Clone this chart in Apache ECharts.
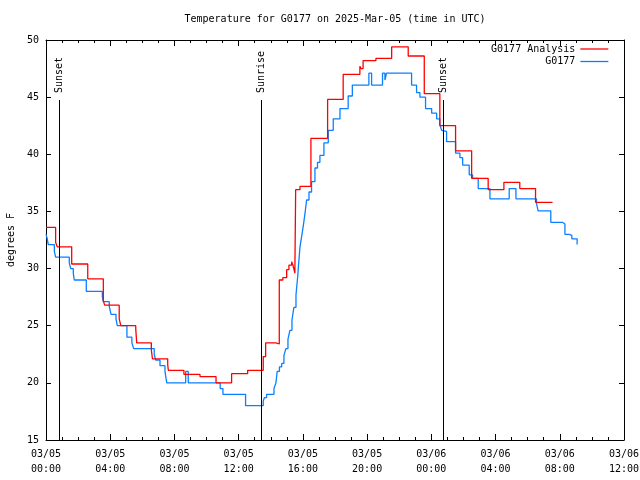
<!DOCTYPE html>
<html>
<head>
<meta charset="utf-8">
<script src="https://cdn.jsdelivr.net/npm/echarts@6/dist/echarts.min.js"></script>
<style>html,body{margin:0;padding:0;background:#fff;}#c{width:640px;height:480px;}</style>
</head>
<body>
<div id="c"></div>
<script>
// hours since 2025-03-05 00:00 UTC
var xTickLabels = ['03/05\n00:00','03/05\n04:00','03/05\n08:00','03/05\n12:00','03/05\n16:00','03/05\n20:00','03/06\n00:00','03/06\n04:00','03/06\n08:00','03/06\n12:00'];

var analysisHours = [0, 0.60, 0.70, 1.60, 2.60, 3.57, 3.65, 4.56, 4.66, 5.59, 5.65, 6.56, 6.63, 7.58, 7.62, 8.59, 9.59, 10.59, 11.56, 12.56, 13.53, 13.68, 14.32, 14.53, 14.75, 14.99, 15.13, 15.30, 15.38, 15.50, 15.55, 15.82, 16.50, 17.54, 18.51, 19.55, 19.62, 19.75, 20.55, 21.53, 22.56, 23.56, 24.53, 25.51, 26.51, 27.54, 28.52, 29.51, 30.49, 31.55];
var analysisTemps = [33.6, 32.3, 31.9, 30.4, 29.1, 27.2, 26.8, 25.6, 25.0, 24.7, 23.5, 22.9, 22.1, 21.6, 21.1, 20.75, 20.55, 20.0, 20.8, 21.1, 22.3, 23.5, 23.4, 29.0, 29.2, 29.9, 30.3, 30.6, 30.3, 29.6, 36.9, 37.2, 41.4, 44.8, 47.0, 47.7, 47.5, 48.2, 48.4, 49.4, 48.6, 45.3, 42.5, 40.3, 37.9, 36.9, 37.55, 37.0, 35.8, 35.8];

var obsHours = [0, 0.08, 0.14, 0.52, 0.60, 1.45, 1.54, 1.70, 1.76, 2.51, 3.51, 3.57, 3.94, 4.05, 4.36, 4.44, 5.04, 5.35, 5.46, 6.74, 6.83, 7.10, 7.41, 7.52, 8.70, 8.86, 10.85, 11.02, 12.43, 13.53, 13.60, 13.74, 14.20, 14.32, 14.40, 14.54, 14.68, 14.82, 14.94, 15.07, 15.19, 15.32, 15.44, 15.57, 15.61, 15.69, 15.71, 15.82, 15.92, 16.02, 16.13, 16.23, 16.38, 16.54, 16.75, 16.91, 17.06, 17.31, 17.58, 17.89, 18.31, 18.82, 19.08, 20.11, 20.28, 20.96, 21.11, 21.21, 22.77, 23.08, 23.29, 23.64, 24.02, 24.33, 24.53, 24.64, 24.74, 24.95, 25.51, 25.78, 25.95, 26.36, 26.57, 26.92, 27.65, 28.85, 29.27, 30.55, 30.65, 31.44, 32.17, 32.32, 32.58, 32.75, 33.08];
var obsTemps = [33.0, 32.6, 32.1, 31.5, 31.0, 30.5, 30.0, 29.6, 29.0, 28.0, 27.5, 27.1, 26.7, 26.0, 25.6, 25.0, 24.0, 23.5, 23.0, 22.5, 22.0, 21.5, 21.0, 20.0, 21.0, 20.0, 19.5, 19.0, 18.0, 18.4, 18.7, 19.0, 19.5, 20.0, 21.0, 21.4, 21.7, 22.4, 23.0, 23.8, 24.6, 25.5, 26.6, 27.7, 28.3, 29.5, 30.0, 31.9, 32.8, 33.7, 34.8, 36.0, 36.7, 37.6, 38.8, 39.3, 39.9, 41.0, 42.1, 43.1, 44.0, 45.1, 46.06, 47.1, 46.06, 47.1, 46.5, 47.1, 46.06, 45.4, 45.0, 44.0, 43.6, 43.1, 42.6, 42.1, 42.0, 41.1, 40.1, 39.7, 39.06, 38.2, 37.9, 37.0, 36.1, 37.0, 36.1, 35.7, 35.05, 34.05, 33.9, 33.0, 32.9, 32.6, 32.1];

var sunEventNames = ['Sunset', 'Sunrise', 'Sunset'];
var sunEventHours = [0.81, 13.42, 24.75];

var FONT = 'DejaVu Sans Mono';
function pairs(xs, ys) { return xs.map(function (x, i) { return [x, ys[i]]; }); }

var sunLines = sunEventHours.map(function (h) { return [{ coord: [h, 44.75] }, { coord: [h, 15] }]; });
var sunLabels = sunEventHours.map(function (h, i) { return { name: sunEventNames[i], coord: [h, 45.36] }; });

var chart = echarts.init(document.getElementById('c'), null, { renderer: 'canvas' });
var axisCommon = {
  type: 'value', min: 0, max: 36, interval: 4,
  axisLine: { show: true, onZero: false, lineStyle: { color: '#000', width: 1 } },
  axisTick: { show: true, inside: true, length: 6, lineStyle: { color: '#000' } },
  minorTick: { show: true, splitNumber: 4, length: 3, lineStyle: { color: '#000' } },
  splitLine: { show: false }
};
var yCommon = {
  type: 'value', min: 15, max: 50, interval: 5,
  axisLine: { show: true, onZero: false, lineStyle: { color: '#000', width: 1 } },
  axisTick: { show: true, inside: true, length: 5, lineStyle: { color: '#000' } },
  splitLine: { show: false }
};
var legendCommon = {
  orient: 'vertical', align: 'right', right: 31, padding: 0,
  itemWidth: 28, itemHeight: 12,
  itemStyle: { color: 'rgba(0,0,0,0)', borderWidth: 0, opacity: 0 },
  lineStyle: { width: 1.3 },
  textStyle: { fontFamily: FONT, fontSize: 10, color: '#000' }
};
chart.setOption({
  animation: false,
  backgroundColor: '#fff',
  title: {
    text: 'Temperature for G0177 on 2025-Mar-05 (time in UTC)',
    left: 335, top: 14, textAlign: 'center', padding: 0,
    textStyle: { fontFamily: FONT, fontSize: 10, fontWeight: 'normal', color: '#000' }
  },
  legend: [
    Object.assign({}, legendCommon, { data: ['G0177 Analysis'], top: 44 }),
    Object.assign({}, legendCommon, { data: ['G0177'], top: 56.5 })
  ],
  grid: { left: 46, right: 16, top: 40, bottom: 40, containLabel: false, outerBoundsMode: 'none' },
  xAxis: [
    Object.assign({}, axisCommon, {
      position: 'bottom',
      axisLabel: { fontFamily: FONT, fontSize: 10, color: '#000', lineHeight: 15, margin: 7,
        formatter: function (v) { return xTickLabels[Math.round(v / 4)]; } }
    }),
    Object.assign({}, axisCommon, { position: 'top', axisLabel: { show: false } })
  ],
  yAxis: [
    Object.assign({}, yCommon, {
      position: 'left',
      name: 'degrees F', nameLocation: 'middle', nameGap: 30, nameRotate: 90,
      nameTextStyle: { fontFamily: FONT, fontSize: 10, color: '#000' },
      axisLabel: { fontFamily: FONT, fontSize: 10, color: '#000', margin: 7 }
    }),
    Object.assign({}, yCommon, { position: 'right', axisLabel: { show: false } })
  ],
  series: [
    {
      name: 'G0177 Analysis', type: 'line', step: 'end', symbol: 'none',
      color: '#ff0000', lineStyle: { color: '#ff0000', width: 1.3 },
      data: pairs(analysisHours, analysisTemps), z: 3,
      markLine: {
        silent: true, symbol: 'none', animation: false,
        lineStyle: { color: '#000', width: 1, type: 'solid' },
        label: { show: false },
        data: sunLines
      },
      markPoint: {
        silent: true, symbol: 'circle', symbolSize: 0, animation: false,
        label: { show: true, position: 'inside', rotate: 90, align: 'left', verticalAlign: 'middle',
          formatter: '{b}', fontFamily: FONT, fontSize: 10, color: '#000' },
        data: sunLabels
      }
    },
    {
      name: 'G0177', type: 'line', step: 'end', symbol: 'none',
      color: '#0a80ff', lineStyle: { color: '#0a80ff', width: 1.3 },
      data: pairs(obsHours, obsTemps), z: 2
    }
  ]
});
</script>
</body>
</html>
